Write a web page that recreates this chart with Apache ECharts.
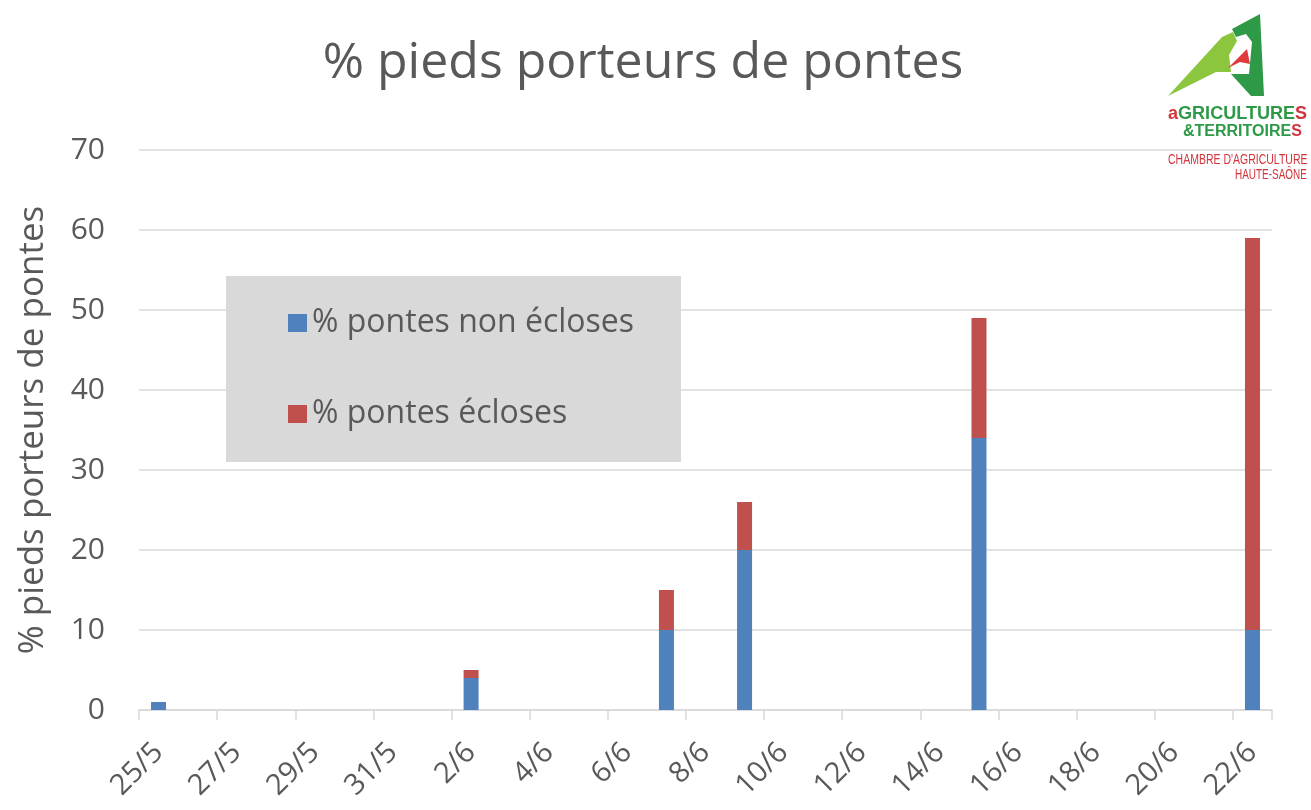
<!DOCTYPE html>
<html><head><meta charset="utf-8">
<script src="https://cdn.jsdelivr.net/npm/echarts@6/dist/echarts.min.js"></script>
<style>html,body{margin:0;padding:0;background:#fff}#c{width:1311px;height:810px}</style>
</head><body><div id="c"></div>
<script>
const days = ['25/5','26/5','27/5','28/5','29/5','30/5','31/5','1/6','2/6','3/6','4/6','5/6','6/6','7/6','8/6','9/6','10/6','11/6','12/6','13/6','14/6','15/6','16/6','17/6','18/6','19/6','20/6','21/6','22/6'];
const obsDates = ['25/5','2/6','7/6','9/6','15/6','22/6'];
const nonEcloses = [1,4,10,20,34,10];
const ecloses = [0,1,5,6,15,49];
const seriesNames = ['% pontes non écloses','% pontes écloses'];
const yTicks = [0,10,20,30,40,50,60,70];

function toDaily(vals){ return days.map(d => { const i = obsDates.indexOf(d); return i >= 0 ? vals[i] : null; }); }

const FONT = '"Open Sans", "Noto Sans", sans-serif';
const LOGOF = '"Liberation Sans", Arial, sans-serif';
const txt = '#595959';
const RED = '#d2343c', GREEN = '#2e9a47';
function logoText(x, y, sx, style){ return {type:'text', z:1, x:x, y:y, scaleX:sx, style:Object.assign({x:0,y:0,verticalAlign:'top',align:'left'}, style)}; }
const chart = echarts.init(document.getElementById('c'));
chart.setOption({
  animation:false,
  title:{text:'% pieds porteurs de pontes',left:638,top:34,textAlign:'center',textStyle:{fontFamily:FONT,fontSize:50,fontWeight:'normal',color:txt}},
  grid:{left:139,right:39,top:150,bottom:100},
  legend:{orient:'vertical',left:283,top:300,itemWidth:19,itemHeight:18,itemGap:55,icon:'rect',z:10,
    textStyle:{fontFamily:FONT,fontSize:32,lineHeight:36,color:txt,padding:[0,0,0,0]},data:seriesNames},
  graphic:[
    {type:'rect',z:1,shape:{x:226,y:276,width:455,height:186},style:{fill:'#d9d9d9'}},
    // logo
    {type:'polygon',z:1,shape:{points:[[1168,96],[1222,37],[1233,32],[1237,41],[1229,55],[1231,72],[1216,72]]},style:{fill:'#8cc63e'}},
    {type:'polygon',z:1,shape:{points:[[1232,29],[1260,14],[1264,96],[1251,96],[1231,74],[1249,74],[1252,42],[1246,34],[1236,37]]},style:{fill:GREEN}},
    {type:'polygon',z:1,shape:{points:[[1228,68],[1247,49],[1250,64],[1240,62]]},style:{fill:'#e03a3e'}},
    logoText(1168,104,0.95,{text:'{r|a}{g|GRICULTURE}{r|S}',rich:{r:{fill:RED,fontSize:19,fontWeight:'bold',fontFamily:LOGOF},g:{fill:GREEN,fontSize:19,fontWeight:'bold',fontFamily:LOGOF}}}),
    logoText(1183,124,1.0,{text:'{g|&TERRITOIRE}{r|S}',rich:{r:{fill:RED,fontSize:16,fontWeight:'bold',fontFamily:LOGOF},g:{fill:GREEN,fontSize:16,fontWeight:'bold',fontFamily:LOGOF}}}),
    logoText(1168,153,0.75,{text:"CHAMBRE D'AGRICULTURE",fill:RED,fontSize:14,fontFamily:LOGOF}),
    logoText(1235,168,0.71,{text:'HAUTE-SAÔNE',fill:RED,fontSize:14,fontFamily:LOGOF})
  ],
  xAxis:{type:'category',data:days,boundaryGap:true,
    axisLine:{show:true,lineStyle:{color:'#d9d9d9',width:1.5}},
    axisTick:{show:true,alignWithLabel:false,interval:(i)=>i%2===0,length:10,lineStyle:{color:'#d9d9d9',width:1.5}},
    axisLabel:{interval:1,rotate:45,margin:38,fontFamily:FONT,fontSize:29,color:txt}},
  yAxis:{type:'value',min:0,max:70,interval:10,
    name:'% pieds porteurs de pontes',nameLocation:'middle',nameGap:88,nameRotate:90,
    nameTextStyle:{fontFamily:FONT,fontSize:35,color:txt},
    axisLine:{show:false},axisTick:{show:false},
    axisLabel:{margin:34,fontFamily:FONT,fontSize:30,color:txt,formatter:v=>yTicks.includes(v)?String(v):''},
    splitLine:{lineStyle:{color:'#d9d9d9',width:1.5}}},
  series:[
    {name:seriesNames[0],type:'bar',stack:'a',barWidth:15,data:toDaily(nonEcloses),itemStyle:{color:'#4f81bd'}},
    {name:seriesNames[1],type:'bar',stack:'a',barWidth:15,data:toDaily(ecloses),itemStyle:{color:'#c0504d'}}
  ]
});
</script></body></html>
